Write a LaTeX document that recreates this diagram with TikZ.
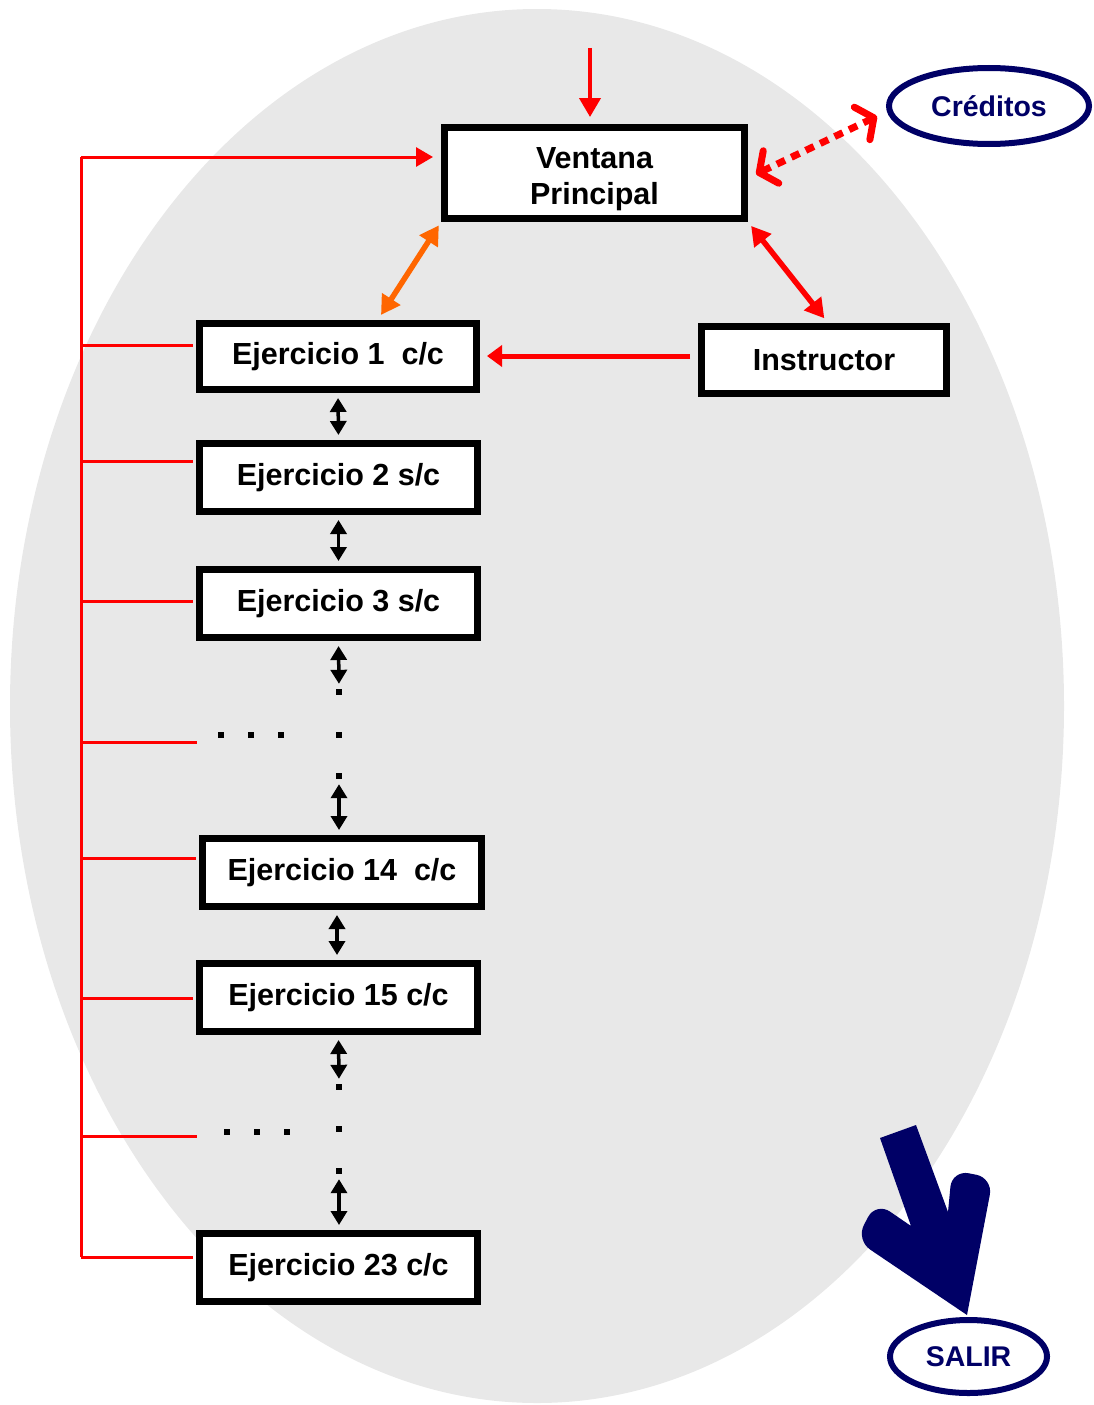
\documentclass[tikz,border=0pt]{standalone}
\usepackage{fontspec}
\setmainfont{Liberation Sans}
\usetikzlibrary{arrows.meta,calc,shapes.geometric}
\definecolor{bggray}{HTML}{E8E8E8}
\definecolor{navy}{HTML}{000066}
\definecolor{myorange}{HTML}{FF6600}
\definecolor{myred}{HTML}{FF0000}
\tikzset{
  boxfont/.style={font=\fontsize{30.5}{36}\selectfont\bfseries, align=center},
  box/.style={draw=black, line width=7pt, fill=white, inner sep=0pt, boxfont},
  oval/.style={ellipse, draw=navy, line width=6pt, fill=white, inner sep=0pt,
    text=navy, font=\fontsize{28.5}{32}\selectfont\bfseries},
  bus/.style={draw=myred, line width=3pt},
  redarrow/.style={draw=myred, line width=4pt, -{Triangle[width=21pt,length=19pt]}},
  redboth/.style={draw=myred, line width=5.5pt, {Triangle[width=21pt,length=19pt]}-{Triangle[width=21pt,length=19pt]}},
  orangeboth/.style={draw=myorange, line width=5.5pt, {Triangle[width=21pt,length=19pt]}-{Triangle[width=21pt,length=19pt]}},
  blackboth/.style={draw=black, line width=3.5pt, {Triangle[width=16pt,length=14pt]}-{Triangle[width=16pt,length=14pt]}},
  dotsq/.style={fill=black, inner sep=0pt, minimum size=6pt},
}
\begin{document}
\begin{tikzpicture}[x=1pt,y=-1pt]
\useasboundingbox (0,0) rectangle (1094,1405);
% background ellipse
\fill[bggray] (537,706) ellipse [x radius=527, y radius=697];

% boxes
\node[box, minimum width=300pt, minimum height=91pt] (v) at (594.5,173) {};
\node[boxfont] (vt) at ([yshift=-6pt]v.center) {Ventana\\Principal};
\node[box, minimum width=245pt, minimum height=67pt] (ins) at (824,360) {Instructor};
\node[box, minimum width=277pt, minimum height=66pt] (e1) at (338,356.5) {Ejercicio 1\ \ c/c};
\node[box, minimum width=278pt, minimum height=68pt] (e2) at (338.5,477.5) {Ejercicio 2 s/c};
\node[box, minimum width=278pt, minimum height=68pt] (e3) at (338.5,603.5) {Ejercicio 3 s/c};
\node[box, minimum width=279pt, minimum height=68pt] (e14) at (342,872.5) {Ejercicio 14\ \ c/c};
\node[box, minimum width=278pt, minimum height=68pt] (e15) at (338.5,997.5) {Ejercicio 15 c/c};
\node[box, minimum width=278pt, minimum height=68pt] (e23) at (338.5,1267.5) {Ejercicio 23 c/c};

% ovals
\node[oval, minimum width=200pt, minimum height=76pt] (cr) at (989,106) {Créditos};
\node[oval, minimum width=157pt, minimum height=73pt] (sal) at (968.5,1356.5) {SALIR};

% dots
\node[dotsq] (h1a) at (221,735) {};
\node[dotsq] (h1b) at (251,735) {};
\node[dotsq] (h1c) at (281,735) {};
\node[dotsq] (d1) at (339,692) {};
\node[dotsq] (d2) at (339,735) {};
\node[dotsq] (d3) at (339,776) {};
\node[dotsq] (h2a) at (227,1132) {};
\node[dotsq] (h2b) at (257,1132) {};
\node[dotsq] (h2c) at (287,1132) {};
\node[dotsq] (f1) at (339,1087) {};
\node[dotsq] (f2) at (339,1129) {};
\node[dotsq] (f3) at (339,1171) {};

% coordinates
\coordinate (top) at (590,48);
\coordinate (busTop) at (81,157);
\coordinate (busBot) at (81,1257);
\coordinate (row1) at (197,742);
\coordinate (row2) at (197,1136);

% top arrow
\draw[redarrow, shorten >=7pt] (top) -- (top |- v.north);

% left bus
\draw[bus] (busTop) -- (busBot);
\draw[bus, -{Triangle[width=19pt,length=17pt]}, shorten >=8pt] (busTop) -- (busTop -| v.west);
\draw[bus, shorten >=3.5pt] (81,345) -- (81,345 -| e1.west);
\draw[bus, shorten >=3.5pt] (81,461) -- (81,461 -| e2.west);
\draw[bus, shorten >=3.5pt] (81,601) -- (81,601 -| e3.west);
\draw[bus] (81,742) -- (row1);
\draw[bus, shorten >=3.5pt] (81,858) -- (81,858 -| e14.west);
\draw[bus, shorten >=3.5pt] (81,998) -- (81,998 -| e15.west);
\draw[bus] (81,1136) -- (row2);
\draw[bus, shorten >=3.5pt] (busBot) -- (busBot -| e23.west);

% orange & red double arrows from Ventana
\draw[orangeboth, shorten <=4pt, shorten >=6pt] (v.south west) -- ($(e1.north west)!0.64!(e1.north east)$);
\draw[redboth, shorten <=5pt, shorten >=6pt] (v.south east) -- ($(ins.north west)!0.516!(ins.north east)$);

% Instructor -> Ej1
\draw[draw=myred, line width=5pt, -{Triangle[width=21pt,length=15pt]}, shorten <=8pt, shorten >=7pt] ([yshift=4pt]ins.west) -- ([yshift=4pt]ins.west -| e1.east);

% dotted Creditos arrow
\draw[draw=myred, line width=7pt, dash pattern=on 9pt off 7pt,
  {Straight Barb[length=13pt,width=36pt,line width=7pt,round]}-{Straight Barb[length=13pt,width=36pt,line width=7pt,round]},
  shorten <=9pt, shorten >=10pt] ([yshift=-5pt]v.east) -- ([yshift=-6pt]cr.west);

% black double arrows
\draw[blackboth, shorten <=5pt, shorten >=5pt] (e1.south) -- (e2.north);
\draw[blackboth, shorten <=5pt, shorten >=5pt] (e2.south) -- (e3.north);
\draw[blackboth, shorten <=5pt, shorten >=5pt] (e3.south) -- (d1.north);
\draw[blackboth, shorten <=5pt, shorten >=5pt] (d3.south) -- (d3.south |- e14.north);
\draw[blackboth, shorten <=5pt, shorten >=5pt] (e14.south -| 337,0) -- (e15.north -| 337,0);
\draw[blackboth, shorten <=5pt, shorten >=5pt] (e15.south) -- (f1.north);
\draw[blackboth, shorten <=5pt, shorten >=5pt] (f3.south) -- (f3.south |- e23.north);

% SALIR arrow
\fill[navy] (880,1138) -- (916,1125) -- (948,1212)
  [rounded corners=17pt] -- (952,1170) -- (993,1178)
  [sharp corners] -- (967,1315)
  [rounded corners=17pt] -- (856,1240) -- (876,1202)
  [sharp corners] -- (911,1226) -- cycle;
\end{tikzpicture}
\end{document}
